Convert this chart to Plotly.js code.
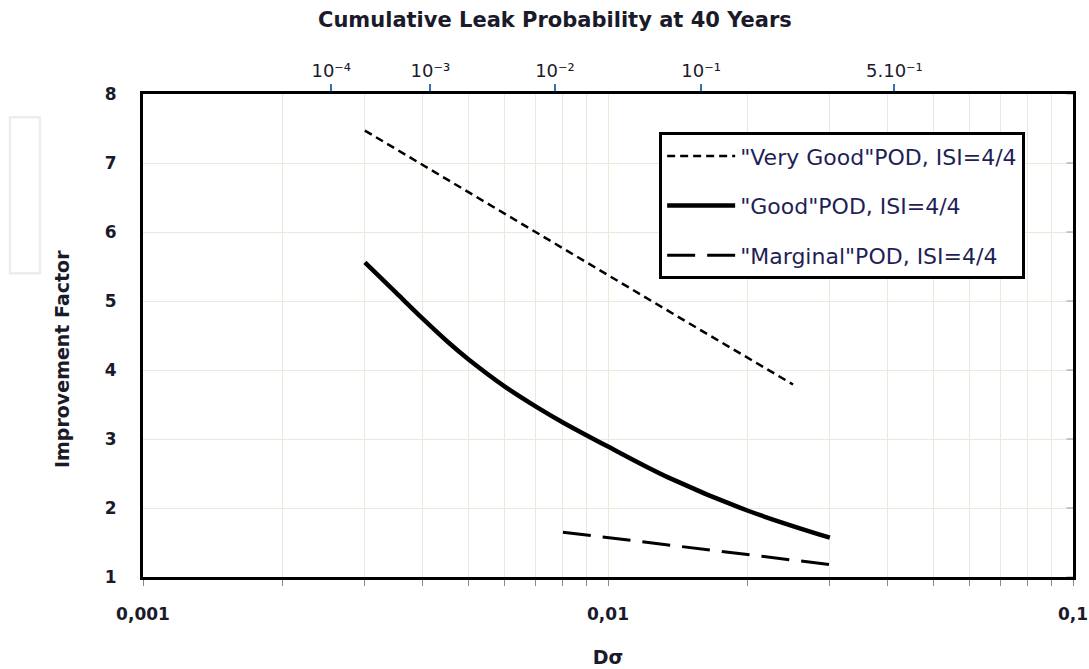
<!DOCTYPE html>
<html>
<head>
<meta charset="utf-8">
<script src="https://cdn.plot.ly/plotly-3.0.1.min.js"></script>
<style>
html,body{margin:0;padding:0;background:#fff}
#chart{width:1089px;height:669px}
</style>
</head>
<body>
<div id="chart"></div>
<script>
// ---- data ----
const seriesNames = ['"Very Good"POD, ISI=4/4', '"Good"POD, ISI=4/4', '"Marginal"POD, ISI=4/4'];
const dsVeryGood = [0.003, 0.005, 0.01, 0.015, 0.025];
const ifVeryGood = [7.47, 6.58, 5.38, 4.67, 3.79];
const dsGood = [0.003, 0.0035, 0.004, 0.0045, 0.005, 0.006, 0.007, 0.008, 0.01, 0.0135, 0.02, 0.03];
const ifGood = [5.56, 5.12, 4.74, 4.42, 4.16, 3.76, 3.47, 3.24, 2.89, 2.44, 1.96, 1.57];
const dsMarginal = [0.008, 0.015, 0.03];
const ifMarginal = [1.65, 1.43, 1.18];

const xTickVals = [0.001, 0.01, 0.1];
const xTickLabels = ['0,001', '0,01', '0,1'];
const topTickVals = [0.00254, 0.00415, 0.00769, 0.01586, 0.0413];
const topTickLabels = ['10\u207B\u2074', '10\u207B\u00B3', '10\u207B\u00B2', '10\u207B\u00B9', '5.10\u207B\u00B9'];
const yTickVals = [1, 2, 3, 4, 5, 6, 7, 8];
const xTitle = 'Dσ';
const yTitle = 'Improvement Factor';
const topTitle = 'Cumulative Leak Probability at 40 Years';

// ---- log minor tick positions (axis furniture) ----
const minorX = [];
for (let d = 0; d < xTickVals.length - 1; d++) {
  for (let m = 2; m <= 9; m++) minorX.push(xTickVals[d] * m);
}

const FONT = 'DejaVu Sans, sans-serif';
const txt = '#1a1a2a';
const legendTxt = '#1f1f58';
const gridC = '#ece9dc';

const traces = [
  {x: dsVeryGood, y: ifVeryGood, name: seriesNames[0], mode: 'lines', legendgroup: 'a',
   line: {color: '#000', width: 2.5, dash: '8px,5px'}, xaxis: 'x', yaxis: 'y'},
  {x: dsGood, y: ifGood, name: seriesNames[1], mode: 'lines', legendgroup: 'b',
   line: {color: '#000', width: 4.5, shape: 'spline', smoothing: 1}, xaxis: 'x', yaxis: 'y'},
  {x: dsMarginal, y: ifMarginal, name: seriesNames[2], mode: 'lines', legendgroup: 'c',
   line: {color: '#000', width: 3, dash: '28px,12px'}, xaxis: 'x', yaxis: 'y'},
  // invisible carrier so the secondary top axis gets drawn
  {x: dsVeryGood, y: ifVeryGood, mode: 'lines', opacity: 0, showlegend: false, hoverinfo: 'skip',
   line: {width: 0}, xaxis: 'x2', yaxis: 'y'}
];

// right-hand inside tick marks (axis furniture)
const shapes = yTickVals.map(v => ({type: 'line', xref: 'paper', yref: 'y', x0: 0.993, x1: 1, y0: v, y1: v,
  line: {color: '#999', width: 1}}));
shapes.push({type: 'rect', xref: 'paper', yref: 'paper', x0: -0.143, x1: -0.1108, y0: 0.629, y1: 0.952,
  line: {color: '#eceeee', width: 2.5}, fillcolor: 'rgba(0,0,0,0)'});

const layout = {
  width: 1089, height: 669,
  margin: {l: 143, r: 16, t: 94, b: 92, pad: 0},
  paper_bgcolor: '#fff', plot_bgcolor: '#fff',
  font: {family: FONT, color: txt},
  showlegend: true,
  legend: {
    x: 0.555, y: 0.921, xanchor: 'left', yanchor: 'top',
    bgcolor: '#fff', bordercolor: '#000', borderwidth: 3,
    font: {family: FONT, size: 22, color: legendTxt},
    traceorder: 'grouped', tracegroupgap: 18, itemwidth: 68
  },
  xaxis: {
    type: 'log', range: [-3, -1],
    tickmode: 'array', tickvals: xTickVals, ticktext: xTickLabels,
    ticks: 'outside', ticklen: 6, tickcolor: '#888', tickwidth: 1,
    showgrid: true, gridcolor: gridC, gridwidth: 1,
    minor: {tickmode: 'array', tickvals: minorX, ticks: 'outside', ticklen: 6, tickcolor: '#888', tickwidth: 1,
            showgrid: true, gridcolor: gridC, gridwidth: 1},
    showline: true, linecolor: '#000', linewidth: 2.5, zeroline: false,
    tickfont: {family: FONT, size: 17, color: txt, weight: 'bold'},
    ticklabelstandoff: 14,
    title: {text: '<b>' + xTitle + '</b>', font: {family: FONT, size: 19, color: txt}, standoff: 28}
  },
  xaxis2: {
    type: 'log', range: [-3, -1], overlaying: 'x', side: 'top', anchor: 'y',
    tickmode: 'array', tickvals: topTickVals, ticktext: topTickLabels,
    ticks: 'outside', ticklen: 7, tickcolor: '#2f75b5', tickwidth: 2,
    showgrid: false, showline: true, linecolor: '#000', linewidth: 3, zeroline: false,
    tickfont: {family: FONT, size: 18, color: txt},
    ticklabelstandoff: 0
  },
  yaxis: {
    range: [1, 8], tickmode: 'array', tickvals: yTickVals,
    ticks: '', showgrid: true, gridcolor: gridC, gridwidth: 1,
    showline: true, linecolor: '#000', linewidth: 3, mirror: true, zeroline: false,
    tickfont: {family: FONT, size: 17, color: txt, weight: 'bold'},
    ticklabelstandoff: 20
  },
  annotations: [
    {text: '<b>' + yTitle + '</b>', xref: 'paper', yref: 'paper', x: -0.0871, y: 0.4513,
     xanchor: 'center', yanchor: 'middle', textangle: -90, showarrow: false,
     font: {family: FONT, size: 19, color: txt}},
    {text: '<b>' + topTitle + '</b>', xref: 'paper', yref: 'paper', x: 0.443, y: 1.153,
     xanchor: 'center', yanchor: 'middle', showarrow: false,
     font: {family: FONT, size: 21, color: txt}}
  ],
  shapes: shapes
};

Plotly.newPlot('chart', traces, layout, {displayModeBar: false, staticPlot: true});
</script>
</body>
</html>
